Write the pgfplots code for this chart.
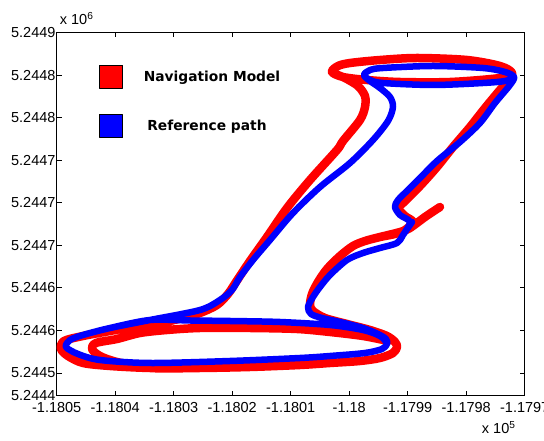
\documentclass[border=0pt]{standalone}
\usepackage{fontspec}
\setmainfont{Liberation Sans}
\newfontfamily\legfont{DejaVu Sans}
\usepackage{pgfplots}
\pgfplotsset{compat=1.18}
\begin{document}
\begin{tikzpicture}
\path[use as bounding box] (-56.7pt,-45.3pt) rectangle (487.3pt,395.7pt);
\begin{axis}[
  name=ax,
  at={(0pt,0pt)}, anchor=south west,
  scale only axis, width=468pt, height=363.2pt,
  xmin=56.7, xmax=524.7, ymin=45.3, ymax=408.5,
  xtick={56.7,115.2,173.7,232.2,290.7,349.2,407.7,466.2,524.7},
  xticklabels={-1.1805,-1.1804,-1.1803,-1.1802,-1.1801,-1.18,-1.1799,-1.1798,-1.1797},
  ytick={45.3,68,110.56,153.13,195.69,238.25,280.81,323.38,365.94,408.5},
  yticklabels={5.2444,5.2445,5.2446,5.2446,5.2447,5.2447,5.2447,5.2448,5.2448,5.2449},
  tick align=inside, tick pos=both, major tick length=5pt,
  ticklabel style={font=\fontsize{14.5}{17}\selectfont},
  xticklabel style={yshift=-3.5pt},
  yticklabel style={inner sep=1pt},
  axis line style={line width=0.8pt},
  tick style={line width=0.8pt, black},
  clip mode=individual,
  legend cell align=left,
  legend style={draw=none, fill=none, at={(axis cs:99,376)}, anchor=north west,
    inner sep=0pt, row sep=25.5pt, column sep=21pt,
    font=\legfont\bfseries\fontsize{13.8}{16}\selectfont,
    nodes={inner sep=0pt}},
]
\addplot[color=red, line width=8.5pt, line cap=round, line join=round, smooth, tension=0.5,
  legend image code/.code={\draw[fill=red,draw=black,line width=0.6pt] (0pt,-11.5pt) rectangle (23pt,11.5pt);}]
table {
X Y
440 234
425 224
410 213
400 209
380 204
365 200
353 195
340 185
327 172
318 159
312 147
310 136
313 130
325 123
347 117
370 111
387 105
395 99
397 94
393 88
380 83
360 80
330 78
300 76
250 74
200 73
150 73
110 75
83 78
68 85
61 92
64 100
83 105
110 110
133 114
160 118
183 123
200 128
217 136
228 147
236 159
250 180
267 204
287 233
310 261
337 291
343 300
360 321
365 334
365 345
358 355
345 363
332 369
338 375
350 378
380 381
417 383
467 381
500 375
512 368
500 363
450 359
400 359
367 361
343 364
332 369
338 375
350 378
380 381
417 383
467 381
500 375
512 368
510 362
500 351
485 333
470 314
453 294
437 274
420 255
403 238
398 233
405 225
413 219
405 211
395 207
380 204
365 200
353 195
340 185
327 172
318 159
312 147
310 136
313 130
325 123
347 117
370 111
387 105
395 99
397 94
393 88
380 83
360 80
330 78
300 76
250 74
200 73
150 73
117 79
100 85
92 92
96 98
117 102
140 108
167 111
200 113
250 113
297 112
330 109
363 105
388 100
};
\addlegendentry{Navigation Model}
\addplot[color=blue, line width=6.5pt, line cap=round, line join=round, smooth, tension=0.5,
  legend image code/.code={\draw[fill=blue,draw=black,line width=0.6pt] (0pt,-11.5pt) rectangle (23pt,11.5pt);}]
table {
X Y
412 219
403 206
397 198
380 193
363 188
347 181
330 166
320 154
313 144
308 134
311 127
322 123
340 119
363 113
378 107
386 102
387 97
382 92
365 88
330 85
300 83
230 80
150 78
100 81
78 87
66 94
70 101
83 106
110 113
150 121
200 131
220 141
232 151
240 164
253 181
270 201
293 228
320 254
350 278
373 301
388 320
393 334
390 344
380 353
370 360
364 366
370 371
383 373
433 375
483 373
505 369
514 364
505 360
483 358
433 356
383 358
370 361
364 366
370 371
383 373
433 375
483 373
505 369
514 364
510 356
495 338
480 318
460 299
437 280
420 263
408 251
398 241
395 234
400 226
410 219
403 206
397 198
380 193
363 188
347 181
330 166
320 154
313 144
308 134
311 127
322 123
340 119
363 113
378 107
386 102
387 97
382 92
365 88
330 85
300 83
230 80
150 78
100 81
78 87
66 94
70 101
83 106
110 113
150 121
190 120.5
230 120
280 119
330 116
363 111
380 105
387 98
};
\addlegendentry{\hspace{3.5pt}Reference path}
\end{axis}
\node[anchor=base west, font=\fontsize{14.5}{17}\selectfont, inner sep=0pt] at ([xshift=3pt,yshift=8pt]ax.north west) {x 10\textsuperscript{6}};
\node[anchor=base east, font=\fontsize{14.5}{17}\selectfont, inner sep=0pt] at ([xshift=-9pt,yshift=-38pt]ax.south east) {x 10\textsuperscript{5}};
\end{tikzpicture}
\end{document}
